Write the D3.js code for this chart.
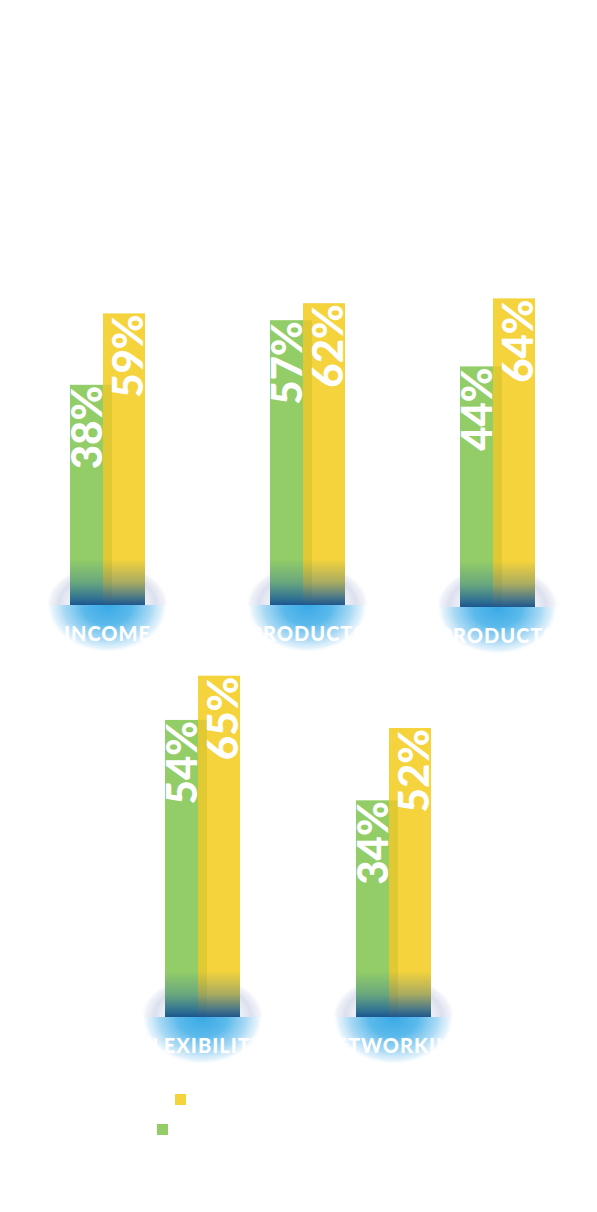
<!DOCTYPE html>
<html>
<head>
<meta charset="utf-8">
<script src="https://cdn.jsdelivr.net/npm/d3@7"></script>
<style>
  html, body { margin: 0; padding: 0; background: #ffffff; }
  svg { display: block; }
</style>
</head>
<body>
<svg id="chart" width="597" height="1212"></svg>
<script>
// ---- data ----
const categories = ["INCOME", "PRODUCTS", "PRODUCTS", "FLEXIBILITY", "NETWORKING"];
const greenValues = [38, 57, 44, 54, 34];
const yellowValues = [59, 62, 64, 65, 52];
const valueLabels = ["38%", "57%", "44%", "54%", "34%"];
const yellowLabels = ["59%", "62%", "64%", "65%", "52%"];
const legendLabels = ["Remote workers", "Office workers"];

// ---- layout ----
const groupLeft = [70, 270, 460, 165, 356];
const groupBase = [605, 605, 607, 1017, 1017];
const groupRow = [0, 0, 0, 1, 1];
const rowHeight = [
  d3.scaleLinear().domain([0, 100]).range([91, 431]),
  d3.scaleLinear().domain([0, 100]).range([80, 482])
];
const barW = 42, yOffset = 33;
const colors = { green: "#93cd68", yellow: "#f4d33c", overlap: "#e1c933" };

const svg = d3.select("#chart");
const defs = svg.append("defs");

// halo gradient (upper)
const halo = defs.append("radialGradient").attr("id", "halo");
[[0, "#ffffff", 0], [0.45, "#dfe3f1", 0.2], [0.78, "#a3add3", 0.38], [0.92, "#b9c0de", 0.2], [1, "#ffffff", 0]]
  .forEach(s => halo.append("stop").attr("offset", s[0]).attr("stop-color", s[1]).attr("stop-opacity", s[2]));

// glow gradient (lower)
const glow = defs.append("radialGradient").attr("id", "glow");
[[0, "#3aa9e6", 1], [0.4, "#52b6ea", 0.95], [0.72, "#9bd3f3", 0.85], [0.9, "#cfe9f9", 0.6], [1, "#ffffff", 0]]
  .forEach(s => glow.append("stop").attr("offset", s[0]).attr("stop-color", s[1]).attr("stop-opacity", s[2]));

// bar bottom shading
const shade = defs.append("linearGradient").attr("id", "shade").attr("x1", 0).attr("x2", 0).attr("y1", 0).attr("y2", 1);
[[0, "#1f63a4", 0], [0.5, "#1f63a4", 0.35], [0.85, "#1a5d9c", 0.8], [1, "#164f8f", 0.95]]
  .forEach(s => shade.append("stop").attr("offset", s[0]).attr("stop-color", s[1]).attr("stop-opacity", s[2]));

categories.forEach((cat, i) => {
  const g = svg.append("g");
  const x0 = groupLeft[i];
  const base = groupBase[i];
  const h = rowHeight[groupRow[i]];
  const cx = x0 + (yOffset + barW) / 2;

  const clipTop = defs.append("clipPath").attr("id", "ct" + i);
  clipTop.append("rect").attr("x", cx - 70).attr("y", base - 60).attr("width", 140).attr("height", 60);
  const clipBot = defs.append("clipPath").attr("id", "cb" + i);
  clipBot.append("rect").attr("x", cx - 70).attr("y", base).attr("width", 140).attr("height", 60);

  g.append("ellipse").attr("cx", cx).attr("cy", base).attr("rx", 62).attr("ry", 42)
    .attr("fill", "url(#halo)").attr("clip-path", "url(#ct" + i + ")");
  g.append("ellipse").attr("cx", cx).attr("cy", base + 1).attr("rx", 61).attr("ry", 47)
    .attr("fill", "url(#glow)").attr("clip-path", "url(#cb" + i + ")");

  const gTop = base - h(greenValues[i]);
  const yTop = base - h(yellowValues[i]);

  g.append("rect").attr("x", x0).attr("y", gTop).attr("width", barW).attr("height", base - gTop).attr("fill", colors.green);
  g.append("rect").attr("x", x0 + yOffset).attr("y", yTop).attr("width", barW).attr("height", base - yTop).attr("fill", colors.yellow);
  g.append("rect").attr("x", x0 + yOffset).attr("y", gTop).attr("width", barW - yOffset).attr("height", base - gTop).attr("fill", colors.overlap);

  g.append("rect").attr("x", x0).attr("y", base - 46).attr("width", yOffset + barW).attr("height", 46).attr("fill", "url(#shade)");

  g.append("text").attr("transform", `translate(${x0 + yOffset - 1},${gTop + 1}) rotate(-90)`)
    .attr("text-anchor", "end").attr("font-family", "Lato").attr("font-weight", 900)
    .attr("font-size", 42).attr("fill", "#ffffff").text(valueLabels[i]);
  g.append("text").attr("transform", `translate(${x0 + yOffset + barW - 2},${yTop + 1}) rotate(-90)`)
    .attr("text-anchor", "end").attr("font-family", "Lato").attr("font-weight", 900)
    .attr("font-size", 42).attr("fill", "#ffffff").text(yellowLabels[i]);

  g.append("text").attr("x", cx).attr("y", base + 36).attr("text-anchor", "middle")
    .attr("font-family", "Lato").attr("font-weight", 900).attr("font-size", 20)
    .attr("letter-spacing", 1).attr("fill", "#ffffff").text(cat);
});

// legend
const legend = [
  { x: 175, y: 1094, color: colors.yellow, label: legendLabels[0] },
  { x: 157, y: 1124, color: colors.green, label: legendLabels[1] }
];
legend.forEach(l => {
  svg.append("rect").attr("x", l.x).attr("y", l.y).attr("width", 11).attr("height", 11).attr("fill", l.color);
  svg.append("text").attr("x", l.x + 18).attr("y", l.y + 10).attr("font-family", "Lato")
    .attr("font-size", 14).attr("fill", "#ffffff").text(l.label);
});
</script>
</body>
</html>
